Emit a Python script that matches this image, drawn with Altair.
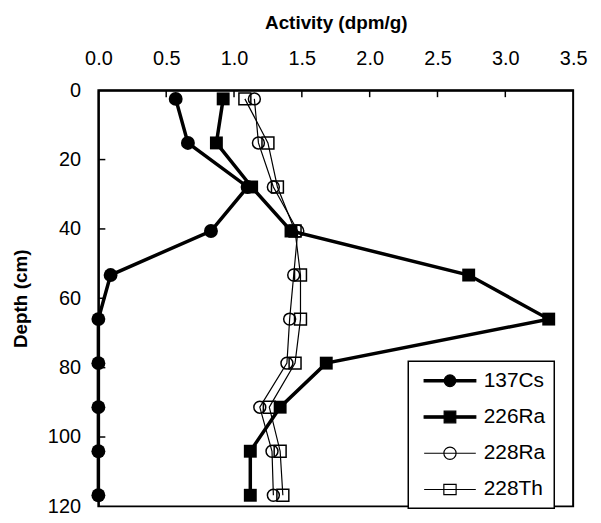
import altair as alt
import pandas as pd

# ---- data ----
depth = [2.5, 15.2, 27.9, 40.6, 53.3, 66.0, 78.7, 91.4, 104.1, 116.8]
cs137 = [0.57, 0.66, 1.10, 0.83, 0.09, 0.0, 0.0, 0.0, 0.0, 0.0]
ra226 = [0.92, 0.87, 1.13, 1.42, 2.73, 3.32, 1.68, 1.34, 1.12, 1.12]
ra228 = [1.15, 1.18, 1.29, 1.47, 1.44, 1.41, 1.39, 1.19, 1.28, 1.29]
th228 = [1.08, 1.25, 1.32, 1.45, 1.49, 1.49, 1.45, 1.26, 1.34, 1.36]
series_names = ["137Cs", "226Ra", "228Ra", "228Th"]
x_ticks = [0.0, 0.5, 1.0, 1.5, 2.0, 2.5, 3.0, 3.5]
y_ticks = [0, 20, 40, 60, 80, 100, 120]

values = {"137Cs": cs137, "226Ra": ra226, "228Ra": ra228, "228Th": th228}
rows = []
for s in series_names:
    for d, v in zip(depth, values[s]):
        rows.append({"series": s, "depth": d, "activity": v})
df = pd.DataFrame(rows)

W, H = 478, 419
FONT = "Liberation Sans"
xscale = alt.Scale(domain=[0, 3.5], nice=False, zero=False)
yscale = alt.Scale(domain=[0, 120], nice=False, zero=False, reverse=True)
xaxis = alt.Axis(orient="top", values=x_ticks, format=".1f", title="Activity (dpm/g)",
                 labelPadding=22, titlePadding=16, ticks=False, domain=True,
                 domainColor="black", domainWidth=2, grid=False, labelFlush=False)
yaxis = alt.Axis(orient="left", values=y_ticks, title="Depth (cm)",
                 labelPadding=18, titlePadding=17, ticks=False, domain=True,
                 domainColor="black", domainWidth=2, grid=False, labelFlush=False)
X = alt.X("activity:Q", scale=xscale, axis=xaxis)
Y = alt.Y("depth:Q", scale=yscale, axis=yaxis)

style = {
    "137Cs": dict(shape="circle", filled=True, size=196, lw=3.5, sw=0),
    "226Ra": dict(shape="square", filled=True, size=169, lw=3.5, sw=0),
    "228Ra": dict(shape="circle", filled=False, size=144, lw=1.2, sw=1.5),
    "228Th": dict(shape="square", filled=False, size=144, lw=1.2, sw=1.5),
}

base = alt.Chart(df)
layers = []

# inward tick marks (top and left axes), drawn as one-sided stroke symbols
xt = alt.Chart(pd.DataFrame({"activity": x_ticks[1:-1]})).mark_point(
    shape="M0,0V1", filled=False, color="black", strokeWidth=1.5, size=196, opacity=1).encode(
    x=X, y=alt.value(0))
yt = alt.Chart(pd.DataFrame({"depth": y_ticks[1:-1]})).mark_point(
    shape="M0,0H1", filled=False, color="black", strokeWidth=1.5, size=196, opacity=1).encode(
    y=Y, x=alt.value(0))
layers += [xt, yt]

for s in series_names:
    st = style[s]
    sub = base.transform_filter(alt.datum.series == s)
    layers.append(sub.mark_line(color="black", strokeWidth=st["lw"]).encode(
        x=X, y=Y, order="depth:Q"))
    if st["filled"]:
        pt = sub.mark_point(shape=st["shape"], filled=True, color="black",
                            size=st["size"], opacity=1)
    else:
        pt = sub.mark_point(shape=st["shape"], filled=False, color="black",
                            size=st["size"], opacity=1, strokeWidth=st["sw"])
    layers.append(pt.encode(x=X, y=Y))

# legend layer (no visible marks, only drives the legend)
paths = [
    "M-4,-0.18H4V0.18H-4Z M0.9,0A0.9,0.9 0 1,1 -0.9,0A0.9,0.9 0 1,1 0.9,0Z",
    "M-4,-0.18H4V0.18H-4Z M-0.9,-0.9H0.9V0.9H-0.9Z",
    "M-4,0H4M0.95,0A0.95,0.95 0 1,1 -0.95,0A0.95,0.95 0 1,1 0.95,0Z",
    "M-4,0H4M-0.95,-0.8H0.95V0.8H-0.95Z",
]
leg_df = pd.DataFrame({"series": series_names})
legend = alt.Legend(title=None, orient="none", legendX=312, legendY=273,
                    symbolStrokeWidth=1.2)
leg = alt.Chart(leg_df).transform_filter(alt.datum.series == "none").mark_point(
    filled=False, color="black", opacity=1, size=169).encode(
    x=alt.value(0), y=alt.value(0),
    shape=alt.Shape("series:N", scale=alt.Scale(domain=series_names, range=paths), legend=legend),
    fill=alt.Fill("series:N", scale=alt.Scale(domain=series_names,
                  range=["black", "black", "transparent", "transparent"]), legend=legend),
    stroke=alt.Stroke("series:N", scale=alt.Scale(domain=series_names,
                  range=["black", "black", "black", "black"]), legend=legend),
)
layers.append(leg)

chart = alt.layer(*layers).properties(
    width=W, height=H,
    autosize=alt.AutoSizeParams(type="none"),
    padding={"left": 91, "top": 81, "right": 20, "bottom": 20},
).configure_view(stroke="black", strokeWidth=2).configure_axis(
    labelFont=FONT, labelFontSize=20, labelColor="black",
    titleFont=FONT, titleFontSize=19, titleFontWeight="bold", titleColor="black",
).configure_legend(
    labelFont=FONT, labelFontSize=21, labelColor="black",
    strokeColor="black", strokeWidth=1.5, fillColor="white",
    padding=9, symbolOffset=22.5, labelOffset=23.5, rowPadding=14.5,
    symbolSize=169, labelLimit=300,
)

chart.save("out.html", embed_options={"renderer": "svg", "actions": False})
